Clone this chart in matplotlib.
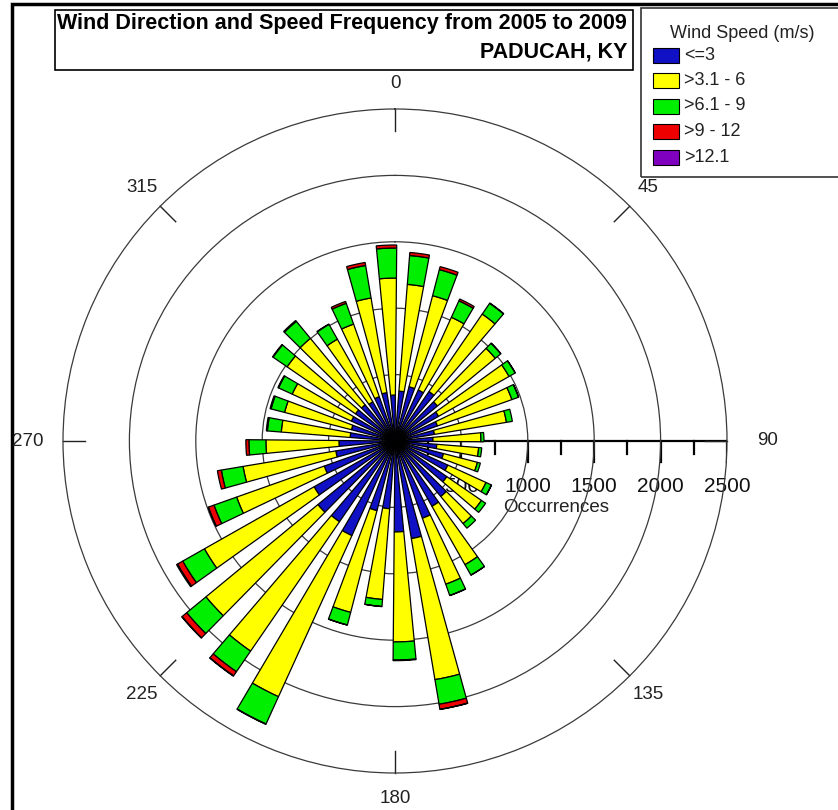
import numpy as np
import matplotlib
matplotlib.use('Agg')
import matplotlib.pyplot as plt
from matplotlib.patches import Rectangle

plt.rcParams['font.family'] = ['Liberation Sans', 'DejaVu Sans']

# ---------------- data (occurrences per direction and speed class) ----------------
directions = list(range(10, 361, 10))
speed_classes = ['<=3', '>3.1 - 6', '>6.1 - 9', '>9 - 12', '>12.1']
blue = [377, 422, 422, 452, 414, 377, 339, 301, 286, 316, 377, 437, 474, 542, 565, 617, 745, 685,
        512, 542, 783, 738, 753, 700, 565, 452, 422, 339, 339, 361, 361, 354, 339, 354, 369, 346]
yellow = [806, 708, 602, 708, 565, 610, 595, 550, 361, 316, 264, 316, 316, 264, 505, 527, 1077, 828,
          685, 791, 1333, 1182, 1092, 949, 700, 708, 550, 520, 520, 490, 625, 648, 542, 580, 723, 881]
green = [218, 203, 136, 98, 53, 53, 53, 45, 23, 23, 23, 45, 38, 45, 90, 90, 188, 136,
         53, 98, 226, 188, 188, 188, 181, 166, 128, 105, 105, 113, 128, 166, 128, 166, 248, 226]
red = [23, 23, 15, 3, 2, 1, 1, 0, 0, 0, 0, 1, 0, 0, 1, 1, 38, 5,
       1, 1, 3, 38, 45, 45, 45, 30, 23, 8, 8, 5, 5, 8, 3, 15, 23, 23]
purple = [0, 0, 0, 0, 0, 0, 0, 0, 0, 0, 0, 0, 0, 0, 0, 0, 2, 0,
          0, 0, 0, 3, 3, 8, 2, 0, 0, 0, 0, 0, 0, 0, 0, 0, 0, 0]
ring_values = [500, 1000, 1500, 2000, 2500]
minor_values = [250, 750, 1250, 1750, 2250]
angle_labels = [0, 45, 90, 135, 180, 225, 270, 315]

colors = ['#1010c4', '#ffff00', '#00ee00', '#ee0000', '#8000c0']
series = [blue, yellow, green, red, purple]

# ---------------- figure geometry ----------------
W, H = 838, 810
fig = plt.figure(figsize=(W / 100, H / 100), dpi=100)
fig.patch.set_facecolor('white')


def fx(px):
    return px / W


def fy(py):
    return 1 - py / H


cx, cy, R = 395, 441, 332
rmax = 2500
rect = [fx(cx - R), fy(cy + R), 2 * R / W, 2 * R / H]

# overlay cartesian axes for the radial scale (drawn beneath the bars)
ax2 = fig.add_axes(rect, zorder=0)
ax2.set_xlim(-rmax, rmax)
ax2.set_ylim(-rmax, rmax)
ax2.axis('off')

ax = fig.add_axes(rect, projection='polar', zorder=1)
ax.patch.set_visible(False)
ax.set_theta_zero_location('N')
ax.set_theta_direction(-1)
ax.set_rlim(0, rmax)
ax.set_rticks(ring_values[:-1])
ax.set_yticklabels([])
ax.set_xticks([])
ax.yaxis.grid(True, color='#3a3a3a', lw=0.9)
ax.spines['polar'].set_color('#3a3a3a')
ax.spines['polar'].set_linewidth(0.9)
ax.set_axisbelow(True)

# bars (the source rose is drawn rotated slightly counter-clockwise)
ROT = -2.5
theta = np.deg2rad(np.array(directions) + ROT)
bottom = np.zeros(len(directions))
for vals, col in zip(series, colors):
    vals = np.array(vals, dtype=float)
    mask = vals > 0
    ax.bar(theta[mask], vals[mask], width=np.deg2rad(6.0), bottom=bottom[mask], color=col,
           edgecolor='black', linewidth=0.9, zorder=3, align='center')
    bottom += vals

# direction ticks and labels
for a in angle_labels:
    t = np.deg2rad(a)
    ax.plot([t, t], [rmax * 0.934, rmax], color='#222222', lw=1.0, clip_on=False, zorder=2)
    r = rmax * 1.078
    ha = 'center'
    if a == 90:
        r = rmax * 1.09
        ha = 'left'
    elif a == 270:
        r = rmax * 1.06
        ha = 'right'
    ax.text(t, r, str(a), ha=ha, va='center', fontsize=13.5, color='#222222', clip_on=False)

# radial scale along east axis
ax2.plot([0, rmax], [0, 0], color='black', lw=1.6)
for v in ring_values:
    ax2.plot([v, v], [0, -160], color='black', lw=1.6)
    ax2.text(v, -346, str(v), ha='center', va='center', fontsize=15, color='#111111')
for v in minor_values:
    ax2.plot([v, v], [0, -100], color='black', lw=1.6)
ax2.text(813, -497, 'Occurrences', ha='left', va='center', fontsize=13.5, color='#222222')

# title box
fig.add_artist(Rectangle((fx(55), fy(70)), fx(633) - fx(55), fy(10) - fy(70), fill=False,
                         ec='black', lw=1.2, transform=fig.transFigure))
fig.text(fx(627), fy(24), 'Wind Direction and Speed Frequency from 2005 to 2009', ha='right',
         va='center', fontsize=15.5, fontweight='bold')
fig.text(fx(627), fy(52), 'PADUCAH, KY', ha='right', va='center', fontsize=15.5, fontweight='bold')

# legend box
fig.add_artist(Rectangle((fx(641), fy(177)), fx(860) - fx(641), fy(8) - fy(177), fill=False,
                         ec='#333333', lw=1.2, transform=fig.transFigure))
fig.text(fx(742), fy(33), 'Wind Speed (m/s)', ha='center', va='center', fontsize=13, color='#222222')
for i, (lab, col) in enumerate(zip(speed_classes, colors)):
    yc = 55 + i * 25.5
    fig.add_artist(Rectangle((fx(653), fy(yc + 7.5)), 26 / W, 15 / H, fc=col, ec='black', lw=0.8,
                             transform=fig.transFigure))
    fig.text(fx(684), fy(yc), lab, ha='left', va='center', fontsize=13, color='#222222')

# outer frame
fig.add_artist(Rectangle((fx(12), -0.1), 1.2, fy(4) + 0.1, fill=False, ec='black', lw=2.5,
                         transform=fig.transFigure))

fig.savefig('out.png', dpi=100)
